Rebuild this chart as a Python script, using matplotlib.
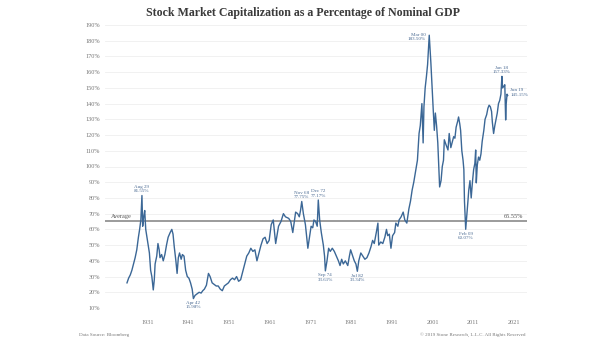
import numpy as np
import matplotlib
matplotlib.use('Agg')
import matplotlib.pyplot as plt

# Market cap / GDP (year as decimal, percent)
years = [1926.0, 1926.4, 1926.8, 1927.2, 1927.6, 1928.0, 1928.4, 1928.8, 1929.1, 1929.4,
         1929.67, 1929.85, 1930.1, 1930.35, 1930.6, 1930.9, 1931.2, 1931.5, 1931.8, 1932.1,
         1932.45, 1932.7, 1932.9, 1933.3, 1933.6, 1933.9, 1934.1, 1934.5, 1934.9, 1935.3,
         1935.7, 1936.1, 1936.6, 1937.0, 1937.3, 1937.6, 1938.0, 1938.3, 1938.6, 1938.9,
         1939.3, 1939.6, 1940.0, 1940.4, 1940.8, 1941.2, 1941.6, 1942.0, 1942.3, 1942.7,
         1943.2, 1943.7, 1944.2, 1944.6, 1945.0, 1945.5, 1946.0, 1946.4, 1946.9, 1947.4,
         1947.9, 1948.4, 1948.9, 1949.4, 1949.9, 1950.4, 1950.9, 1951.4, 1951.9, 1952.4,
         1952.9, 1953.4, 1953.9, 1954.4, 1954.9, 1955.4, 1955.9, 1956.4, 1956.9, 1957.4,
         1957.9, 1958.4, 1958.9, 1959.4, 1959.9, 1960.4, 1960.9, 1961.4, 1961.9, 1962.5,
         1963.2, 1963.8, 1964.4, 1964.9, 1965.7, 1966.2, 1966.7, 1967.4, 1967.9, 1968.3,
         1968.6, 1968.9, 1969.3, 1969.8, 1970.4, 1970.8, 1971.2, 1971.6, 1971.9, 1972.3,
         1972.7, 1972.96, 1973.3, 1973.7, 1974.2, 1974.5, 1974.7, 1975.1, 1975.5, 1975.9,
         1976.4, 1976.9, 1977.4, 1977.9, 1978.3, 1978.7, 1979.1, 1979.6, 1980.2, 1980.6,
         1980.9, 1981.4, 1981.8, 1982.2, 1982.55, 1982.9, 1983.4, 1983.9, 1984.4, 1984.9,
         1985.4, 1985.9, 1986.3, 1986.7, 1987.2, 1987.6, 1987.8, 1988.3, 1988.8, 1989.3,
         1989.7, 1990.0, 1990.4, 1990.8, 1991.2, 1991.7, 1992.0, 1992.5, 1992.8, 1993.3,
         1993.8, 1994.2, 1994.7, 1995.2, 1995.6, 1996.0, 1996.4, 1996.9, 1997.3, 1997.7,
         1998.0, 1998.4, 1998.7, 1998.9, 1999.2, 1999.5, 1999.8, 2000.0, 2000.2, 2000.4,
         2000.6, 2000.9, 2001.2, 2001.45, 2001.7, 2002.0, 2002.3, 2002.6, 2002.75, 2003.1,
         2003.4, 2003.7, 2003.9, 2004.3, 2004.8, 2005.1, 2005.5, 2005.9, 2006.2, 2006.5,
         2006.8, 2007.2, 2007.4, 2007.7, 2007.9, 2008.2, 2008.5, 2008.7, 2008.85, 2009.15,
         2009.4, 2009.7, 2009.9, 2010.2, 2010.5, 2010.8, 2011.1, 2011.4, 2011.6, 2011.75,
         2012.0, 2012.3, 2012.6, 2012.9, 2013.2, 2013.6, 2013.9, 2014.3, 2014.6, 2014.9,
         2015.2, 2015.5, 2015.7, 2016.0, 2016.3, 2016.6, 2016.9, 2017.2, 2017.5, 2017.8,
         2018.04, 2018.2, 2018.5, 2018.75, 2018.96, 2019.1, 2019.3, 2019.45]
pct = [26, 29, 31, 34, 38, 42, 47, 55, 60, 66,
       81.55, 62, 68, 72, 60, 55, 50, 45, 34, 30,
       21.5, 28, 38, 43, 51, 47, 42, 44, 40, 44,
       50, 55, 58, 60, 57, 49, 40, 32, 42, 45,
       41, 44, 43, 34, 30, 29, 26, 22, 15.98, 18,
       19, 20, 19.5, 21, 22, 24.5, 32, 30, 26, 25,
       24, 24, 22, 21, 24, 25, 26, 28, 29, 28,
       30, 27, 28, 33, 38, 43, 45, 48, 46, 47,
       40, 45, 50, 54, 55, 51, 53, 63, 66, 51,
       62, 65, 70, 68, 67, 65, 58, 71, 70, 68,
       72, 77.75, 70, 63, 48, 55, 62, 61, 66, 65,
       62, 78.7, 66, 58, 50, 43, 33.61, 40, 48, 46,
       48, 46, 43, 40, 37, 41, 38, 40, 37, 43,
       47, 43, 40, 38, 33.34, 40, 45, 43, 41, 42,
       45, 49, 53, 51, 58, 64, 50, 52, 51, 55,
       60, 56, 57, 48, 56, 58, 64, 62, 66, 68,
       71, 66, 64, 73, 78, 85, 90, 98, 104, 121,
       126, 140, 115, 138, 150, 157, 165, 174, 183.5, 175,
       166, 150, 135, 123, 134, 126, 115, 96, 87, 91,
       100, 104, 117, 114, 110.5, 121, 112, 116, 119, 118,
       125, 129, 131.5, 127, 123, 110, 104, 98, 78, 60.07,
       68, 78, 85, 91, 80, 90, 98, 102, 110.5, 89.6,
       101, 106, 104, 108, 116, 123, 130, 133, 137, 139,
       138, 135, 128, 121, 126, 130, 134, 140, 142, 146,
       157.33, 150, 151, 152, 129.6, 140, 146, 145.15]

avg_pct = 65.55
xtick_years = [1931, 1941, 1951, 1961, 1971, 1981, 1991, 2001, 2011, 2021]
ytick_vals = list(range(10, 200, 10))

# (year, value, label, placement)
notes = [(1929.67, 81.55, 'Aug 29\n81.55%', 'above'),
         (1942.3, 15.98, 'Apr 42\n15.98%', 'below'),
         (1968.9, 77.75, 'Nov 68\n77.75%', 'above'),
         (1972.96, 78.7, 'Dec 72\n77.17%', 'above'),
         (1974.7, 33.61, 'Sep 74\n33.61%', 'below'),
         (1982.55, 33.34, 'Jul 82\n33.34%', 'below'),
         (2000.2, 183.5, 'Mar 00\n183.50%', 'left'),
         (2009.15, 60.07, 'Feb 09\n60.07%', 'below'),
         (2018.04, 157.33, 'Jan 18\n157.33%', 'above'),
         (2019.45, 145.15, 'Jun 19\n145.15%', 'right')]

serif = ['Liberation Serif', 'DejaVu Serif']
blue = '#3b6796'
grey = '#777777'

fig = plt.figure(figsize=(6.05, 3.41), dpi=100)
ax = fig.add_axes([105 / 605, 33 / 341, 422 / 605, 283 / 341])

ax.plot(years, pct, color=blue, lw=1.0, zorder=3)
ax.axhline(avg_pct, color='#8a8a8a', lw=1.2, zorder=2)
for v in ytick_vals:
    ax.axhline(v, color='#efefef', lw=0.6, zorder=1)

ax.set_xlim(1920.6, 2024.2)
ax.set_ylim(10, 190)
ax.set_xticks(xtick_years)
ax.set_xticklabels([str(y) for y in xtick_years])
ax.set_yticks(ytick_vals)
ax.set_yticklabels(['%d%%' % v for v in ytick_vals])
ax.tick_params(axis='both', length=0, labelsize=4.5, labelcolor=grey)
ax.tick_params(axis='x', pad=9)
ax.tick_params(axis='y', pad=3.5)
for lab in ax.get_xticklabels() + ax.get_yticklabels():
    lab.set_family(serif)
for s in ax.spines.values():
    s.set_visible(False)

ax.text(1922.0, avg_pct + 0.8, 'Average', fontsize=4.5, color='#555555',
        family=serif, ha='left', va='bottom')
ax.text(2023.3, avg_pct + 0.8, '%.2f%%' % avg_pct, fontsize=4.5, color='#555555',
        family=serif, ha='right', va='bottom')

for x, y, txt, where in notes:
    kw = dict(fontsize=3.6, color='#4a6a92', family=serif, linespacing=1.1)
    if where == 'above':
        ax.text(x, y + 1.5, txt, ha='center', va='bottom', **kw)
    elif where == 'below':
        ax.text(x, y - 1.5, txt, ha='center', va='top', **kw)
    elif where == 'left':
        ax.text(x - 0.8, y - 1, txt, ha='right', va='center', **kw)
    else:
        ax.text(x + 0.6, y + 2, txt, ha='left', va='center', **kw)

fig.text(0.5, 1 - 13 / 341, 'Stock Market Capitalization as a Percentage of Nominal GDP',
         ha='center', va='center', fontsize=8.6, fontweight='bold', color='#3a3a3a',
         family=serif)
fig.text(79 / 605, 1 - 335 / 341, 'Data Source: Bloomberg', ha='left', va='center',
         fontsize=3.6, color=grey, family=serif)
fig.text(525 / 605, 1 - 335 / 341, '\u00a9 2019 Stone Research, L.L.C. All Rights Reserved',
         ha='right', va='center', fontsize=3.6, color=grey, family=serif)

fig.savefig('out.png', dpi=100)
